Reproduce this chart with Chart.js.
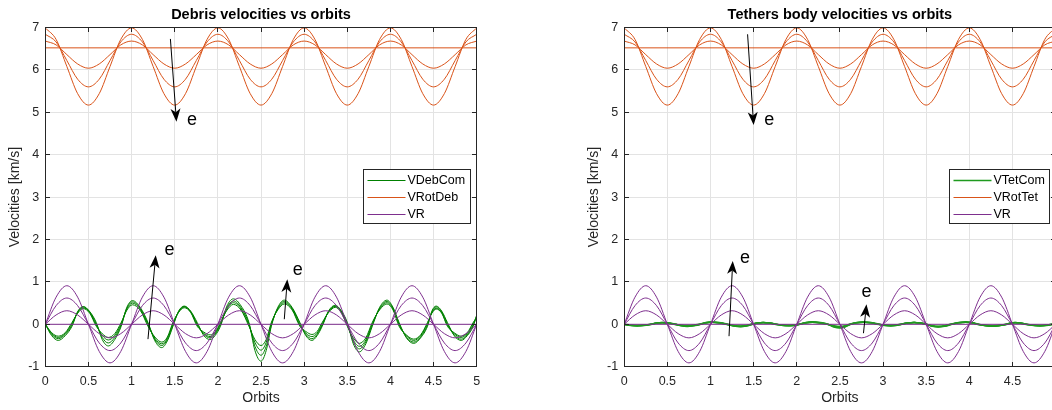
<!DOCTYPE html>
<html>
<head>
<meta charset="utf-8">
<title>Velocities vs orbits</title>
<script src="https://cdn.jsdelivr.net/npm/chart.js@4.4.1/dist/chart.umd.min.js"></script>
<style>
  html, body { margin: 0; padding: 0; background: #fff; overflow: hidden; }
  #wrap { position: relative; width: 1052px; height: 410px; overflow: hidden; }
  canvas { position: absolute; top: 0; }
  #debris { left: 0; }
  #tethers { left: 520px; }
</style>
</head>
<body>
<div id="wrap">
  <canvas id="debris" width="520" height="410"></canvas>
  <canvas id="tethers" width="560" height="410"></canvas>
</div>
<script>
// ---- data ----
const orbitTicks = [0, 0.5, 1, 1.5, 2, 2.5, 3, 3.5, 4, 4.5, 5];
const orbitTickLabels = ['0', '0.5', '1', '1.5', '2', '2.5', '3', '3.5', '4', '4.5', '5'];
const velocityTicks = [-1, 0, 1, 2, 3, 4, 5, 6, 7];
const velocityTickLabels = ['-1', '0', '1', '2', '3', '4', '5', '6', '7'];

// sample positions (orbits) for the rotational and radial velocities
const orbitGrid = [0,0.125,0.25,0.375,0.5,0.625,0.75,0.875,1,1.125,1.25,1.375,1.5,1.625,1.75,1.875,
  2,2.125,2.25,2.375,2.5,2.625,2.75,2.875,3,3.125,3.25,3.375,3.5,3.625,3.75,3.875,
  4,4.125,4.25,4.375,4.5,4.625,4.75,4.875,5];
const orbitEnds = [0, 5];

// rotational velocity, circular orbit and growing eccentricity
const vRotCircular = [6.52, 6.52];
const vRot1 = [6.68,6.59,6.36,6.14,6.04,6.14,6.36,6.59, 6.68,6.59,6.36,6.14,6.04,6.14,6.36,6.59,
  6.68,6.59,6.36,6.14,6.04,6.14,6.36,6.59, 6.68,6.59,6.36,6.14,6.04,6.14,6.36,6.59,
  6.68,6.59,6.36,6.14,6.04,6.14,6.36,6.59, 6.68];
const vRot2 = [6.84,6.66,6.22,5.78,5.60,5.78,6.22,6.66, 6.84,6.66,6.22,5.78,5.60,5.78,6.22,6.66,
  6.84,6.66,6.22,5.78,5.60,5.78,6.22,6.66, 6.84,6.66,6.22,5.78,5.60,5.78,6.22,6.66,
  6.84,6.66,6.22,5.78,5.60,5.78,6.22,6.66, 6.84];
const vRot3 = [6.99,6.72,6.08,5.44,5.17,5.44,6.08,6.72, 6.99,6.72,6.08,5.44,5.17,5.44,6.08,6.72,
  6.99,6.72,6.08,5.44,5.17,5.44,6.08,6.72, 6.99,6.72,6.08,5.44,5.17,5.44,6.08,6.72,
  6.99,6.72,6.08,5.44,5.17,5.44,6.08,6.72, 6.99];

// radial velocity
const vrCircular = [0, 0];
const vr1 = [0,0.22,0.32,0.22,0,-0.22,-0.32,-0.22, 0,0.22,0.32,0.22,0,-0.22,-0.32,-0.22,
  0,0.22,0.32,0.22,0,-0.22,-0.32,-0.22, 0,0.22,0.32,0.22,0,-0.22,-0.32,-0.22,
  0,0.22,0.32,0.22,0,-0.22,-0.32,-0.22, 0];
const vr2 = [0,0.44,0.62,0.44,0,-0.44,-0.62,-0.44, 0,0.44,0.62,0.44,0,-0.44,-0.62,-0.44,
  0,0.44,0.62,0.44,0,-0.44,-0.62,-0.44, 0,0.44,0.62,0.44,0,-0.44,-0.62,-0.44,
  0,0.44,0.62,0.44,0,-0.44,-0.62,-0.44, 0];
const vr3 = [0,0.64,0.91,0.64,0,-0.64,-0.91,-0.64, 0,0.64,0.91,0.64,0,-0.64,-0.91,-0.64,
  0,0.64,0.91,0.64,0,-0.64,-0.91,-0.64, 0,0.64,0.91,0.64,0,-0.64,-0.91,-0.64,
  0,0.64,0.91,0.64,0,-0.64,-0.91,-0.64, 0];

// centre of mass velocity (libration), sampled at its own positions
const comGrid = [0,0.075,0.15,0.23,0.31,0.375,0.44,0.515,0.59,0.66,
  0.73,0.805,0.88,0.945,1.01,1.10,1.19,1.27,1.35,1.415,
  1.48,1.545,1.61,1.685,1.76,1.835,1.91,1.97,2.03,2.105,
  2.18,2.27,2.36,2.43,2.50,2.56,2.62,2.695,2.77,2.86,
  2.95,3.02,3.09,3.15,3.21,3.285,3.36,3.43,3.50,3.57,
  3.64,3.715,3.79,3.875,3.96,4.03,4.10,4.185,4.27,4.35,
  4.43,4.48,4.53,4.595,4.66,4.74,4.82,4.89,4.96,5.00];

const vDebCom0 = [0,-0.20,-0.28,-0.20,0.045,0.26,0.37,0.26,-0.045,-0.22,
  -0.31,-0.22,0.045,0.33,0.46,0.33,-0.045,-0.30,-0.42,-0.30,
  0.045,0.28,0.39,0.28,-0.045,-0.18,-0.25,-0.18,0.045,0.33,
  0.47,0.33,-0.045,-0.36,-0.50,-0.36,0.045,0.34,0.48,0.34,
  -0.045,-0.17,-0.24,-0.17,0.045,0.28,0.40,0.28,-0.045,-0.32,
  -0.45,-0.32,0.045,0.34,0.48,0.34,-0.045,-0.25,-0.35,-0.25,
  0.045,0.26,0.36,0.26,-0.045,-0.20,-0.28,-0.20,0.045,0.16];
const vDebCom1 = [0,-0.22,-0.31,-0.22,0.015,0.28,0.39,0.28,-0.015,-0.26,
  -0.37,-0.26,0.015,0.36,0.50,0.36,-0.015,-0.33,-0.46,-0.33,
  0.015,0.29,0.41,0.29,-0.015,-0.21,-0.29,-0.21,0.015,0.36,
  0.51,0.36,-0.015,-0.43,-0.61,-0.43,0.015,0.36,0.51,0.36,
  -0.015,-0.21,-0.29,-0.21,0.015,0.30,0.42,0.30,-0.015,-0.37,
  -0.52,-0.37,0.015,0.36,0.51,0.36,-0.015,-0.27,-0.38,-0.27,
  0.015,0.27,0.38,0.27,-0.015,-0.22,-0.31,-0.22,0.015,0.18];
const vDebCom2 = [0,-0.24,-0.34,-0.24,-0.015,0.29,0.41,0.29,0.015,-0.31,
  -0.44,-0.31,-0.015,0.38,0.53,0.38,0.015,-0.36,-0.50,-0.36,
  -0.015,0.30,0.42,0.30,0.015,-0.23,-0.32,-0.23,-0.015,0.39,
  0.55,0.39,0.015,-0.52,-0.73,-0.52,-0.015,0.38,0.54,0.38,
  0.015,-0.24,-0.34,-0.24,-0.015,0.31,0.43,0.31,0.015,-0.41,
  -0.58,-0.41,-0.015,0.38,0.54,0.38,0.015,-0.30,-0.42,-0.30,
  -0.015,0.29,0.41,0.29,0.015,-0.25,-0.35,-0.25,-0.015,0.20];
const vDebCom3 = [0,-0.27,-0.38,-0.27,-0.045,0.30,0.42,0.30,0.045,-0.36,
  -0.51,-0.36,-0.045,0.40,0.56,0.40,0.045,-0.39,-0.55,-0.39,
  -0.045,0.31,0.43,0.31,0.045,-0.26,-0.36,-0.26,-0.045,0.43,
  0.60,0.43,0.045,-0.62,-0.87,-0.62,-0.045,0.40,0.57,0.40,
  0.045,-0.27,-0.38,-0.27,-0.045,0.32,0.45,0.32,0.045,-0.46,
  -0.65,-0.46,-0.045,0.40,0.57,0.40,0.045,-0.32,-0.45,-0.32,
  -0.045,0.31,0.43,0.31,0.045,-0.27,-0.38,-0.27,-0.045,0.22];

const vTetCom0 = [0,-0.02,-0.028,-0.02,0.005,0.026,0.037,0.026,-0.005,-0.022,
  -0.031,-0.022,0.005,0.033,0.046,0.033,-0.005,-0.03,-0.042,-0.03,
  0.005,0.028,0.039,0.028,-0.005,-0.018,-0.025,-0.018,0.005,0.033,
  0.047,0.033,-0.005,-0.036,-0.05,-0.036,0.005,0.034,0.048,0.034,
  -0.005,-0.017,-0.024,-0.017,0.005,0.028,0.04,0.028,-0.005,-0.032,
  -0.045,-0.032,0.005,0.034,0.048,0.034,-0.005,-0.025,-0.035,-0.025,
  0.005,0.026,0.036,0.026,-0.005,-0.02,-0.028,-0.02,0.005,0.016];
const vTetCom1 = [0,-0.022,-0.031,-0.022,0.002,0.028,0.039,0.028,-0.002,-0.026,
  -0.037,-0.026,0.002,0.036,0.05,0.036,-0.002,-0.033,-0.046,-0.033,
  0.002,0.029,0.041,0.029,-0.002,-0.021,-0.029,-0.021,0.002,0.036,
  0.051,0.036,-0.002,-0.043,-0.061,-0.043,0.002,0.036,0.051,0.036,
  -0.002,-0.021,-0.029,-0.021,0.002,0.03,0.042,0.03,-0.002,-0.037,
  -0.052,-0.037,0.002,0.036,0.051,0.036,-0.002,-0.027,-0.038,-0.027,
  0.002,0.027,0.038,0.027,-0.002,-0.022,-0.031,-0.022,0.002,0.018];
const vTetCom2 = [0,-0.024,-0.034,-0.024,-0.002,0.029,0.041,0.029,0.002,-0.031,
  -0.044,-0.031,-0.002,0.038,0.053,0.038,0.002,-0.036,-0.05,-0.036,
  -0.002,0.03,0.042,0.03,0.002,-0.023,-0.032,-0.023,-0.002,0.039,
  0.055,0.039,0.002,-0.052,-0.073,-0.052,-0.002,0.038,0.054,0.038,
  0.002,-0.024,-0.034,-0.024,-0.002,0.031,0.043,0.031,0.002,-0.041,
  -0.058,-0.041,-0.002,0.038,0.054,0.038,0.002,-0.03,-0.042,-0.03,
  -0.002,0.029,0.041,0.029,0.002,-0.025,-0.035,-0.025,-0.002,0.02];
const vTetCom3 = [0,-0.027,-0.038,-0.027,-0.005,0.03,0.042,0.03,0.005,-0.036,
  -0.051,-0.036,-0.005,0.04,0.056,0.04,0.005,-0.039,-0.055,-0.039,
  -0.005,0.031,0.043,0.031,0.005,-0.026,-0.036,-0.026,-0.005,0.043,
  0.06,0.043,0.005,-0.062,-0.087,-0.062,-0.005,0.04,0.057,0.04,
  0.005,-0.027,-0.038,-0.027,-0.005,0.032,0.045,0.032,0.005,-0.046,
  -0.065,-0.046,-0.005,0.04,0.057,0.04,0.005,-0.032,-0.045,-0.032,
  -0.005,0.031,0.043,0.031,0.005,-0.027,-0.038,-0.027,-0.005,0.022];

const debrisLegend = ['VDebCom', 'VRotDeb', 'VR'];
const tethersLegend = ['VTetCom', 'VRotTet', 'VR'];

// arrows showing growing eccentricity: [orbits, km/s]
const debrisArrowTail = [[1.45, 6.73], [1.19, -0.35], [2.77, 0.12]];
const debrisArrowHead = [[1.52, 4.78], [1.28, 1.63], [2.805, 1.06]];
const debrisArrowText = [[1.70, 4.78], [1.44, 1.71], [2.925, 1.24]];
const tethersArrowTail = [[1.43, 6.84], [1.215, -0.28], [2.773, -0.21]];
const tethersArrowHead = [[1.50, 4.70], [1.258, 1.49], [2.808, 0.47]];
const tethersArrowText = [[1.68, 4.78], [1.40, 1.52], [2.808, 0.71]];

// ---- style ----
const FONT = '"Liberation Sans", Arial, Helvetica, sans-serif';
const AXIS_COLOR = '#262626';
const GRID_COLOR = '#e3e3e3';
const ORANGE = '#d95319';
const PURPLE = '#7e2f8e';
const TICK_LEN = 4.5;

Chart.defaults.font.family = FONT;
Chart.defaults.color = AXIS_COLOR;

function series(xs, ys) {
  return xs.map((x, i) => ({ x: x, y: ys[i] }));
}

function line(xs, ys, color, width, order) {
  return {
    data: series(xs, ys),
    borderColor: color,
    borderWidth: width,
    pointRadius: 0,
    fill: false,
    cubicInterpolationMode: 'monotone',
    order: order
  };
}

function crisp(v) {
  return Math.round(v - 0.5) + 0.5;
}

function drawArrow(ctx, x0, y0, x1, y1) {
  const ang = Math.atan2(y1 - y0, x1 - x0);
  const len = 13, half = 5, notch = 9.5;
  ctx.beginPath();
  ctx.moveTo(x0, y0);
  ctx.lineTo(x1 - notch * Math.cos(ang), y1 - notch * Math.sin(ang));
  ctx.stroke();
  ctx.save();
  ctx.translate(x1, y1);
  ctx.rotate(ang);
  ctx.beginPath();
  ctx.moveTo(0, 0);
  ctx.lineTo(-len, -half);
  ctx.lineTo(-notch, 0);
  ctx.lineTo(-len, half);
  ctx.closePath();
  ctx.fill();
  ctx.restore();
}

// box, inward ticks, legend and arrow annotations
const framePlugin = {
  id: 'frame',
  afterDraw(chart, args, opts) {
    const ctx = chart.ctx;
    const a = chart.chartArea;
    const xs = chart.scales.x, ys = chart.scales.y;
    const L = crisp(a.left), R = crisp(a.right), T = crisp(a.top), B = crisp(a.bottom);
    ctx.save();

    ctx.strokeStyle = AXIS_COLOR;
    ctx.lineWidth = 1;
    ctx.beginPath();
    orbitTicks.forEach(v => {
      const px = crisp(xs.getPixelForValue(v));
      ctx.moveTo(px, B); ctx.lineTo(px, B - TICK_LEN);
      ctx.moveTo(px, T); ctx.lineTo(px, T + TICK_LEN);
    });
    velocityTicks.forEach(v => {
      const py = crisp(ys.getPixelForValue(v));
      ctx.moveTo(L, py); ctx.lineTo(L + TICK_LEN, py);
      ctx.moveTo(R, py); ctx.lineTo(R - TICK_LEN, py);
    });
    ctx.stroke();
    ctx.strokeRect(L, T, R - L, B - T);

    // legend box
    ctx.font = '12.5px ' + FONT;
    const textW = Math.max(...opts.legend.map(t => ctx.measureText(t).width));
    const boxW = Math.round(4 + 38 + 2 + textW + 5);
    const boxH = 54;
    const bx = crisp(a.right - 6 - boxW), by = crisp(169);
    ctx.fillStyle = '#fff';
    ctx.fillRect(bx, by, boxW, boxH);
    ctx.strokeStyle = AXIS_COLOR;
    ctx.strokeRect(bx, by, boxW, boxH);
    ctx.textBaseline = 'middle';
    ctx.textAlign = 'left';
    opts.legend.forEach((label, i) => {
      const yy = by + 10.5 + i * 17;
      ctx.strokeStyle = opts.legendColors[i];
      ctx.lineWidth = opts.legendWidths[i];
      ctx.beginPath();
      ctx.moveTo(bx + 4, Math.round(yy) + 0.5);
      ctx.lineTo(bx + 42, Math.round(yy) + 0.5);
      ctx.stroke();
      ctx.fillStyle = '#000';
      ctx.fillText(label, bx + 44, yy + 0.5);
    });

    // eccentricity arrows
    ctx.strokeStyle = '#000';
    ctx.fillStyle = '#000';
    ctx.lineWidth = 1;
    opts.tails.forEach((t, i) => {
      const h = opts.heads[i];
      drawArrow(ctx, xs.getPixelForValue(t[0]), ys.getPixelForValue(t[1]),
        xs.getPixelForValue(h[0]), ys.getPixelForValue(h[1]));
    });
    ctx.font = '18px ' + FONT;
    ctx.textAlign = 'center';
    ctx.textBaseline = 'middle';
    opts.texts.forEach(p => {
      ctx.fillText('e', xs.getPixelForValue(p[0]), ys.getPixelForValue(p[1]) - 2);
    });
    ctx.restore();
  }
};

function makeChart(id, cfg) {
  const ctx = document.getElementById(id).getContext('2d');
  const datasets = [
    line(orbitEnds, vrCircular, PURPLE, 1, 0),
    line(orbitGrid, vr1, PURPLE, 1, 0),
    line(orbitGrid, vr2, PURPLE, 1, 0),
    line(orbitGrid, vr3, PURPLE, 1, 0),
    line(orbitEnds, vRotCircular, ORANGE, 1, 1),
    line(orbitGrid, vRot1, ORANGE, 1, 1),
    line(orbitGrid, vRot2, ORANGE, 1, 1),
    line(orbitGrid, vRot3, ORANGE, 1, 1)
  ];
  cfg.com.forEach(ys => datasets.push(line(comGrid, ys, cfg.green, cfg.greenWidth, 2)));

  return new Chart(ctx, {
    type: 'line',
    data: { datasets: datasets },
    options: {
      responsive: false,
      animation: false,
      devicePixelRatio: 1,
      layout: { padding: { left: 0, right: cfg.padRight, top: 0, bottom: 0 } },
      plugins: {
        legend: { display: false },
        tooltip: { enabled: false },
        title: {
          display: true,
          fullSize: false,
          text: cfg.title,
          color: '#000',
          font: { family: FONT, size: 14.5, weight: 'bold' },
          padding: { top: 6.6, bottom: 3.5 }
        },
        frame: {
          legend: cfg.legend,
          legendColors: [cfg.green, ORANGE, PURPLE],
          legendWidths: [cfg.greenWidth, 1, 1],
          tails: cfg.tails,
          heads: cfg.heads,
          texts: cfg.texts
        }
      },
      scales: {
        x: {
          type: 'linear',
          min: 0,
          max: 5,
          afterBuildTicks: s => { s.ticks = orbitTicks.map(v => ({ value: v })); },
          ticks: {
            autoSkip: false,
            maxRotation: 0,
            padding: 7.8,
            color: AXIS_COLOR,
            font: { size: 12.5 },
            callback: (v, i) => orbitTickLabels[i]
          },
          grid: { color: GRID_COLOR, drawTicks: false },
          border: { display: false },
          title: {
            display: true,
            text: 'Orbits',
            color: AXIS_COLOR,
            font: { size: 14 },
            padding: { top: 0, bottom: 3.1 }
          },
          afterFit: s => { s.height = 43.3; }
        },
        y: {
          type: 'linear',
          min: -1,
          max: 7,
          afterBuildTicks: s => { s.ticks = velocityTicks.map(v => ({ value: v })); },
          ticks: {
            autoSkip: false,
            padding: 6,
            color: AXIS_COLOR,
            font: { size: 12.5 },
            callback: (v, i) => velocityTickLabels[i]
          },
          grid: { color: GRID_COLOR, drawTicks: false },
          border: { display: false },
          title: {
            display: true,
            text: 'Velocities [km/s]',
            color: AXIS_COLOR,
            font: { size: 14 },
            padding: { top: cfg.axisWidth - 30 - 8.4, bottom: 0 }
          },
          afterFit: s => { s.width = cfg.axisWidth; }
        }
      }
    },
    plugins: [framePlugin]
  });
}

makeChart('debris', {
  title: 'Debris velocities vs orbits',
  axisWidth: 45.3,
  padRight: 43.3,
  com: [vDebCom0, vDebCom1, vDebCom2, vDebCom3],
  green: '#008000',
  greenWidth: 1,
  legend: debrisLegend,
  tails: debrisArrowTail,
  heads: debrisArrowHead,
  texts: debrisArrowText
});

makeChart('tethers', {
  title: 'Tethers body velocities vs orbits',
  axisWidth: 104.2,
  padRight: 24.4,
  com: [vTetCom0, vTetCom1, vTetCom2, vTetCom3],
  green: '#1f9a1f',
  greenWidth: 1.5,
  legend: tethersLegend,
  tails: tethersArrowTail,
  heads: tethersArrowHead,
  texts: tethersArrowText
});
</script>
</body>
</html>
